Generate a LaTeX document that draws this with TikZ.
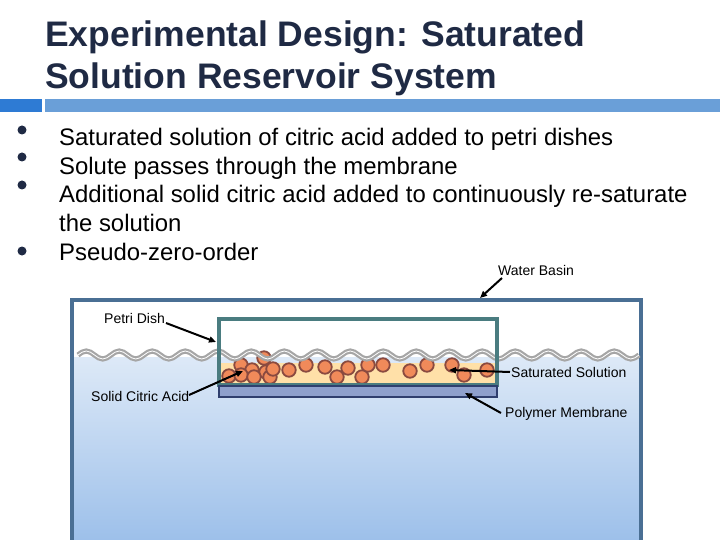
\documentclass[tikz,border=0pt]{standalone}
\usepackage{fontspec}
\setmainfont{Liberation Sans}
\usetikzlibrary{arrows.meta}
\definecolor{titlec}{HTML}{1F2A44}
\definecolor{barA}{HTML}{2E7BD4}
\definecolor{barB}{HTML}{6A9FD8}
\definecolor{basin}{HTML}{4A6F94}
\definecolor{dishc}{HTML}{4A7C80}
\definecolor{solc}{HTML}{FFE0A8}
\definecolor{memc}{HTML}{8EA0CC}
\definecolor{memb}{HTML}{2F3F6E}
\definecolor{partc}{HTML}{F08A5A}
\definecolor{partb}{HTML}{8A4A40}
\definecolor{wtop}{HTML}{DDE9F7}
\definecolor{wbot}{HTML}{9DC0EA}
\tikzset{
 lbl/.style={font=\fontsize{14}{16}\selectfont, inner sep=1pt},
 bul/.style={font=\fontsize{23.9}{28}\selectfont, anchor=base west, inner sep=0pt},
 arr/.style={-{Triangle[length=7pt,width=6pt]}, line width=2pt, black},
 part/.style={circle, minimum size=13.5pt, inner sep=0pt, fill=partc, draw=partb, line width=1.8pt}
}
\begin{document}
\begin{tikzpicture}[x=1pt,y=-1pt]
\useasboundingbox (0,0) rectangle (720,540);
% title
\node[anchor=base west, inner sep=0pt, text=titlec, font=\bfseries\fontsize{35.5}{42}\selectfont] (t1) at (45,47) {Experimental Design: Saturated};
\node[anchor=base west, inner sep=0pt, text=titlec, font=\bfseries\fontsize{35.5}{42}\selectfont] (t2) at (45,89) {Solution Reservoir System};
\fill[barA] (0,99) rectangle (42,112);
\fill[barB] (45,99) rectangle (720,112);
% bullets
\foreach \y in {130,157,185,251} \fill[titlec] (22,\y) circle (4.5);
\node[bul] (b1) at (59,146) {Saturated solution of citric acid added to petri dishes};
\node[bul] (b2) at (59,175) {Solute passes through the membrane};
\node[bul] (b3) at (59,203) {Additional solid citric acid added to continuously re-saturate};
\node[bul] (b3b) at (59,232) {the solution};
\node[bul] (b4) at (59,260) {Pseudo-zero-order};
% water
\shade[top color=wtop, bottom color=wbot] (72,357) rectangle (641,540);
\draw[basin, line width=4pt] (72,545) -- (72,300) -- (641,300) -- (641,545);
% dish
\fill[solc] (219,363) rectangle (496,384);
\foreach \p in {(229,376),(241,365),(252,370),(264,358),(266,372),(241,375),(254,377),(270,377),(273,369),(289,370),(306,365),(325,367),(337,377),(348,368),(362,377),(368,365),(383,365),(410,371),(427,365),(452,365),(464,375),(487,370)}
  \node[part] at \p {};
% wave
\draw[gray!70, double=white, line width=2.2pt, double distance=0.8pt]
  (78,355) \foreach \i in {0,...,16} { sin ++(8.25,-4) cos ++(8.25,4) sin ++(8.25,4) cos ++(8.25,-4) };
\draw[dishc, line width=4pt] (219,319) rectangle (497,385);
\draw[memb, line width=1.5pt, fill=memc] (219,386) rectangle (497,397);
% labels
\node[lbl, anchor=west] (wb) at (497,270) {Water Basin};
\coordinate (wbt) at (480,298);
\draw[arr] (502,278) -- (wbt);
\node[lbl, anchor=west] (pd) at (103,318) {Petri Dish};
\coordinate (pdt) at (216,342);
\draw[arr] (166,323) -- (pdt);
\node[lbl, anchor=west] (sca) at (90,396) {Solid Citric Acid};
\coordinate (scat) at (243,371);
\draw[arr] (189,395) -- (scat);
\node[lbl, anchor=west] (ss) at (510,372) {Saturated Solution};
\coordinate (sst) at (449,370);
\draw[arr] (ss.west) -- (sst);
\node[lbl, anchor=west] (pm) at (504,414) {Polymer Membrane};
\coordinate (pmt) at (465,393);
\draw[arr] (501,413) -- (pmt);
\end{tikzpicture}
\end{document}
